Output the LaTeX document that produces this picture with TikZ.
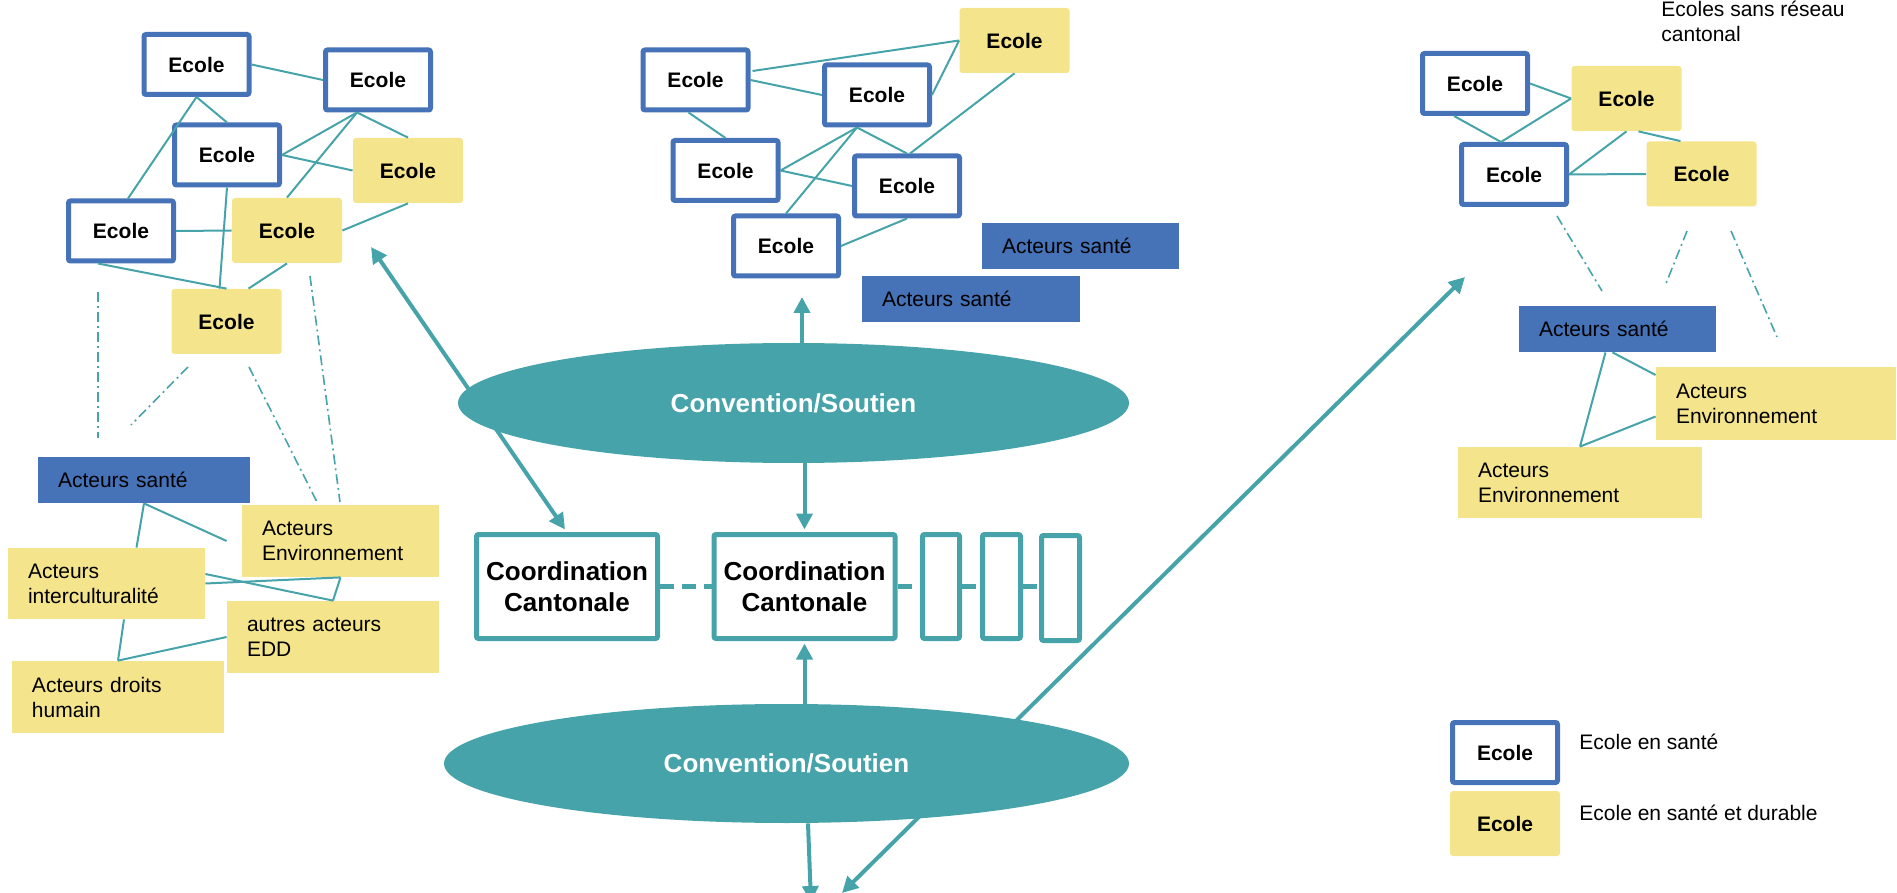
\documentclass[tikz,border=0pt]{standalone}
\usepackage{fontspec}
\setmainfont{Liberation Sans}
\usetikzlibrary{calc,arrows.meta,shapes.geometric}
\definecolor{bleu}{RGB}{70,114,184}
\definecolor{sarcelle}{RGB}{70,163,169}
\definecolor{jaune}{RGB}{244,228,139}
\begin{document}
\begin{tikzpicture}[x=0.5pt,y=-0.5pt,
  ecoleB/.style={draw=bleu, line width=2.5pt, fill=white, minimum width=52.5pt, minimum height=30pt, inner sep=0pt, rounded corners=1pt, font=\fontsize{10.5}{12}\selectfont\bfseries},
  ecoleJ/.style={fill=jaune, minimum width=55pt, minimum height=32.5pt, inner sep=0pt, rounded corners=1.5pt, font=\fontsize{10.5}{12}\selectfont\bfseries},
  acteur/.style={align=left, inner xsep=10pt, inner ysep=0pt, font=\fontsize{10.5}{12.5}\selectfont},
  sante/.style={acteur, fill=bleu},
  jacteur/.style={acteur, fill=jaune},
  lien/.style={draw=sarcelle, line width=1pt},
  pointille/.style={draw=sarcelle, line width=0.8pt, dash pattern=on 5pt off 2pt on 1pt off 2pt},
  fleche/.style={draw=sarcelle, line width=2pt, -{Triangle[length=8pt,width=8pt]}},
  fleched/.style={draw=sarcelle, line width=2pt, {Triangle[length=8pt,width=8pt]}-{Triangle[length=8pt,width=8pt]}},
  coordbox/.style={draw=sarcelle, line width=2.5pt, fill=white, inner sep=0pt, align=center, rounded corners=1pt, font=\fontsize{13}{15.5}\selectfont\bfseries},
  tiret/.style={draw=sarcelle, line width=2.5pt, dash pattern=on 7pt off 4pt},
  conv/.style={ellipse, fill=sarcelle, inner sep=0pt, text=white, font=\fontsize{13}{15}\selectfont\bfseries},
  texte/.style={inner sep=0pt, align=left, font=\fontsize{10.5}{12.5}\selectfont}
]
\useasboundingbox (0,0) rectangle (1897,893);

% ---------- long arrows (behind ellipses) ----------
\coordinate (ha) at (371,247);
\coordinate (hd) at (1465,277);
\coordinate (bd) at (842,893);
\coordinate (t1) at (802,297);
\coordinate (b1) at (811,902);

% ---------- coordination boxes ----------
\node[coordbox, minimum width=90.5pt, minimum height=52pt] (C1) at (567,586.5) {Coordination\\Cantonale};
\node[coordbox, minimum width=90.5pt, minimum height=52pt] (C2) at (804.5,586.5) {Coordination\\Cantonale};
\node[coordbox, minimum width=18.5pt, minimum height=52pt] (R1) at (941,586.5) {};
\node[coordbox, minimum width=19pt, minimum height=52pt] (R2) at (1001.5,586.5) {};
\node[coordbox, minimum width=19pt, minimum height=52.5pt] (R3) at (1060.5,588) {};
\draw[tiret] (C1.east) -- (C2.west);
\draw[tiret] (C2.east) -- (R1.west |- C2.east);
\draw[tiret] (R1.east |- C2.east) -- (R2.west |- C2.east);
\draw[tiret] (R2.east |- C2.east) -- (R3.west |- C2.east);

\draw[fleched] (ha) -- ($(C1.north)+(-2,-2.5)$);
\draw[fleched] (bd) -- (hd);

% ---------- ellipses ----------
\node[conv, minimum width=335.5pt, minimum height=60pt] (E1) at (793.5,403) {Convention/Soutien};
\node[conv, minimum width=342.5pt, minimum height=59.5pt] (E2) at (786.5,763.5) {Convention/Soutien};

\draw[fleche] (E1.north -| t1) -- (t1);
\draw[fleche] (E1.south -| C2.north) -- ($(C2.north)+(0,-2.5)$);
\draw[fleche] (E2.north -| C2.south) -- ($(C2.south)+(0,2.5)$);
\draw[fleche] ($(E2.south)+(21.5,0)$) -- (b1);

% ---------- left cluster ----------
\node[ecoleB] (L1) at (196.5,64.5) {Ecole};
\node[ecoleB] (L2) at (378,80) {Ecole};
\node[ecoleB] (L3) at (227,155) {Ecole};
\node[ecoleJ] (L4) at (408,170.5) {Ecole};
\node[ecoleB] (L5) at (121,231) {Ecole};
\node[ecoleJ] (L6) at (287,230.5) {Ecole};
\node[ecoleJ] (L7) at (226.5,321.5) {Ecole};

\draw[lien] (L1.east) -- (L2.west);
\draw[lien] (L1.south) -- (L3.north);
\draw[lien] (L1.south) -- ($(L5.north)+(7,0)$);
\draw[lien] ($(L2.south)+(-21,0)$) -- (L3.east);
\draw[lien] ($(L2.south)+(-21,0)$) -- (L6.north);
\draw[lien] ($(L2.south)+(-21,0)$) -- (L4.north);
\draw[lien] (L3.east) -- (L4.west);
\draw[lien] (L3.south) -- ($(L7.north)+(-7,0)$);
\draw[lien] (L5.east) -- (L6.west);
\draw[lien] ($(L5.south)+(-23,0)$) -- (L7.north);
\draw[lien] (L6.south) -- ($(L7.north)+(22,0)$);
\draw[lien] (L4.south) -- (L6.east);

\draw[pointille] (98,292) -- (98,438);
\draw[pointille] (188,367) -- (131,425);
\draw[pointille] (249,367) -- (318,504);
\draw[pointille] (310,276) -- (340,502);

\node[sante, text width=86pt, minimum height=23pt] (LS) at (144,480) {Acteurs santé};
\node[jacteur, text width=78.5pt, minimum height=36pt] (LE) at (340.5,541) {Acteurs\\Environnement};
\node[jacteur, text width=78.5pt, minimum height=35.5pt] (LI) at (106.5,583.5) {Acteurs\\interculturalité};
\node[jacteur, text width=86pt, minimum height=36pt] (LA) at (333,637) {autres acteurs\\EDD};
\node[jacteur, text width=86pt, minimum height=36pt] (LD) at (118,697) {Acteurs droits\\humain};

\draw[lien] (LS.south) -- ($(LI.north)+(30,0)$);
\draw[lien] (LS.south) -- ($(LE.west)+(-15,0)$);
\draw[lien] ($(LI.east)+(0,-9.5)$) -- (LA.north);
\draw[lien] (LI.east) -- (LE.south);
\draw[lien] (LE.south) -- (LA.north);
\draw[lien] ($(LI.south)+(17.5,0)$) -- (LD.north);
\draw[lien] (LD.north) -- (LA.west);

% ---------- middle cluster ----------
\node[ecoleB] (MA) at (695.5,80) {Ecole};
\node[ecoleB] (MB) at (877,95) {Ecole};
\node[ecoleJ] (MC) at (1014.5,40.5) {Ecole};
\node[ecoleB] (MD) at (725.5,170.5) {Ecole};
\node[ecoleB] (ME) at (907,186) {Ecole};
\node[ecoleB] (MF) at (786,246) {Ecole};

\draw[lien] ($(MA.east)+(2,-9)$) -- (MC.west);
\draw[lien] (MA.east) -- (MB.west);
\draw[lien] (MB.east) -- (MC.west);
\draw[lien] (MC.south) -- ($(ME.north)+(3,0)$);
\draw[lien] ($(MA.south)+(-7,0)$) -- (MD.north);
\draw[lien] ($(MB.south)+(-20,0)$) -- (MD.east);
\draw[lien] ($(MB.south)+(-20,0)$) -- (MF.north);
\draw[lien] ($(MB.south)+(-20,0)$) -- (ME.north);
\draw[lien] (MD.east) -- (ME.west);
\draw[lien] (ME.south) -- (MF.east);

\node[sante, text width=78.5pt, minimum height=23pt] (MS1) at (1080.5,246) {Acteurs santé};
\node[sante, text width=89pt, minimum height=23pt] (MS2) at (971,299) {Acteurs santé};

% ---------- right cluster ----------
\node[texte, anchor=west] (titre) at (1661,21.5) {Ecoles sans réseau\\cantonal};

\node[ecoleB] (RA) at (1475,83.5) {Ecole};
\node[ecoleJ] (RB) at (1626.5,98.5) {Ecole};
\node[ecoleB] (RC) at (1514,174.5) {Ecole};
\node[ecoleJ] (RD) at (1701.5,174) {Ecole};

\draw[lien] (RA.east) -- (RB.west);
\draw[lien] ($(RA.south)+(-21,0)$) -- ($(RC.north)+(-13,0)$);
\draw[lien] ($(RC.north)+(-13,0)$) -- (RB.west);
\draw[lien] (RB.south) -- (RC.east);
\draw[lien] ($(RB.south)+(12,0)$) -- ($(RD.north)+(-21,0)$);
\draw[lien] (RC.east) -- (RD.west);

\draw[pointille] (1557,216) -- (1602,291);
\draw[pointille] (1687,231) -- (1665,286);
\draw[pointille] (1731,231) -- (1777,337);

\node[sante, text width=78.5pt, minimum height=23pt] (RS) at (1617.5,329) {Acteurs santé};
\node[jacteur, text width=100pt, minimum height=36.5pt] (RE1) at (1776,403.5) {Acteurs\\Environnement};
\node[jacteur, text width=102pt, minimum height=35.5pt] (RE2) at (1580,482.5) {Acteurs\\Environnement};

\draw[lien] ($(RS.south)+(-12,0)$) -- (RE2.north);
\draw[lien] ($(RS.south)+(-5,0)$) -- ($(RE1.west)+(0,-28.5)$);
\draw[lien] (RE2.north) -- ($(RE1.west)+(0,13)$);

% ---------- legend ----------
\node[ecoleB] (LG1) at (1505,752.5) {Ecole};
\node[ecoleJ] (LG2) at (1505,823.5) {Ecole};
\node[texte, anchor=west] (LT1) at (1579,742) {Ecole en santé};
\node[texte, anchor=west] (LT2) at (1579,813) {Ecole en santé et durable};
\end{tikzpicture}
\end{document}
